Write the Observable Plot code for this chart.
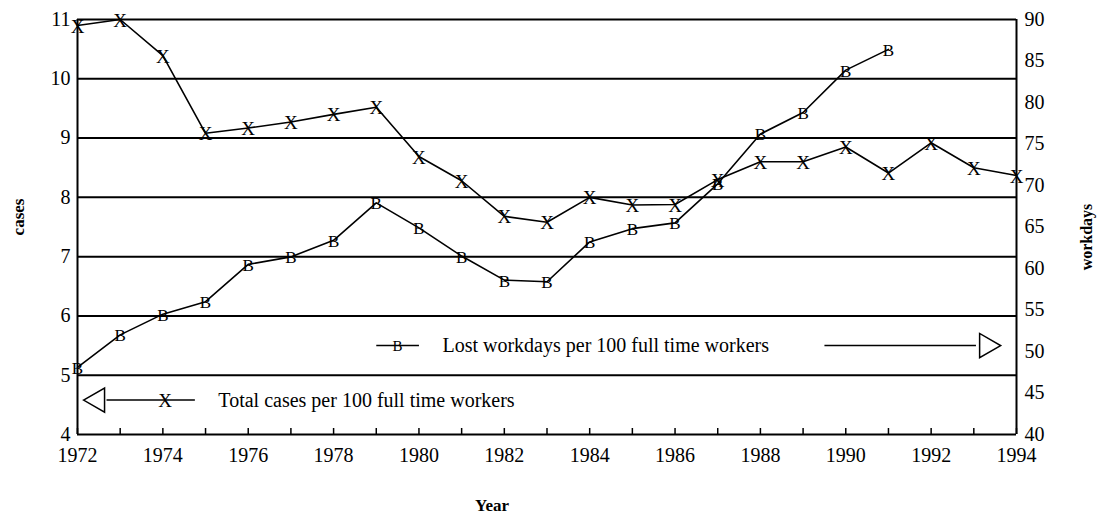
<!DOCTYPE html>
<html><head><meta charset="utf-8">
<script src="https://cdn.jsdelivr.net/npm/d3@7"></script>
<script src="https://cdn.jsdelivr.net/npm/@observablehq/plot@0.6"></script>
<style>
body{margin:0;background:#fff;}
svg{font-family:"Liberation Serif",serif;}
</style></head><body><div id="chart"></div>
<script>
const years = [1972,1973,1974,1975,1976,1977,1978,1979,1980,1981,1982,1983,1984,1985,1986,1987,1988,1989,1990,1991,1992,1993,1994];
const totalCases = [10.9,11.0,10.39,9.08,9.17,9.27,9.4,9.52,8.69,8.28,7.68,7.58,8.0,7.87,7.88,8.3,8.6,8.6,8.85,8.41,8.92,8.5,8.37];
const lostYears = [1972,1973,1974,1975,1976,1977,1978,1979,1980,1981,1982,1983,1984,1985,1986,1987,1988,1989,1990,1991];
const lostWorkdays = [48.1,52.0,54.5,56.0,60.5,61.4,63.4,67.9,64.9,61.5,58.6,58.4,63.2,64.8,65.5,70.2,76.2,78.8,83.9,86.4];
const casesTicks = [4,5,6,7,8,9,10,11];
const gridCases = [5,6,7,8,9,10,11];
const workdayTicks = [40,45,50,55,60,65,70,75,80,85,90];
const yearLabels = [1972,1974,1976,1978,1980,1982,1984,1986,1988,1990,1992,1994];
const legendLabels = ["Lost workdays per 100 full time workers","Total cases per 100 full time workers"];
const axisTitles = {x:"Year", yLeft:"cases", yRight:"workdays"};

// workdays (right axis) -> cases (left axis) units
const casesDomain = [4,11], workDomain = [40,90];
const toCases = w => casesDomain[0] + (w - workDomain[0]) * (casesDomain[1]-casesDomain[0])/(workDomain[1]-workDomain[0]);
const toWork = c => workDomain[0] + (c - casesDomain[0]) * (workDomain[1]-workDomain[0])/(casesDomain[1]-casesDomain[0]);

const cases = years.map((y,i)=>({year:y, v:totalCases[i]}));
const lost = lostYears.map((y,i)=>({year:y, v:toCases(lostWorkdays[i])}));

const FS = 20;
const chart = Plot.plot({
  width:1097, height:515,
  marginLeft:77, marginRight:81, marginTop:19, marginBottom:81,
  style:{fontFamily:"'Liberation Serif', serif", fontSize:FS+"px", color:"#000", background:"#fff"},
  x:{domain:[1972,1994]},
  y:{domain:casesDomain},
  marks:[
    Plot.ruleY(gridCases, {stroke:"#000", strokeWidth:2}),
    Plot.ruleX([1972,1994], {stroke:"#000", strokeWidth:2}),
    Plot.ruleY([4], {stroke:"#000", strokeWidth:2}),
    Plot.axisX(years, {anchor:"bottom", tickSize:-6, strokeWidth:1.5, text:null, label:null}),
    Plot.axisX(yearLabels, {anchor:"bottom", tickSize:0, tickPadding:13, tickFormat:"d", fontSize:FS, label:null}),
    Plot.axisY(casesTicks, {anchor:"left", tickSize:0, tickPadding:7, tickFormat:"d", fontSize:FS, label:null}),
    Plot.axisY(workdayTicks.map(toCases), {anchor:"right", tickSize:0, tickPadding:8, fontSize:FS, tickFormat:d=>String(Math.round(toWork(d))), label:null}),
    Plot.text([axisTitles.yLeft], {frameAnchor:"left", textAnchor:"middle", lineAnchor:"middle", dx:-59, dy:-10, rotate:-90, fontWeight:"bold", fontSize:17}),
    Plot.text([axisTitles.yRight], {frameAnchor:"right", textAnchor:"middle", lineAnchor:"middle", dx:70, dy:10, rotate:-90, fontWeight:"bold", fontSize:16}),
    Plot.text([axisTitles.x], {frameAnchor:"bottom", textAnchor:"middle", lineAnchor:"middle", dx:-55, dy:71, fontWeight:"bold", fontSize:17}),
    // data lines
    Plot.line(cases, {x:"year", y:"v", stroke:"#000", strokeWidth:1.6}),
    Plot.line(lost, {x:"year", y:"v", stroke:"#000", strokeWidth:1.6}),
    Plot.text(cases, {x:"year", y:"v", text:()=>"X", fontSize:19, fill:"#000", dy:1}),
    Plot.text(lost, {x:"year", y:"v", text:()=>"B", fontSize:17, fill:"#000", dy:1}),
    // legend: lost workdays
    Plot.link([0], {x1:1979.0, x2:1980.0, y1:5.5, y2:5.5, stroke:"#000", strokeWidth:1.5}),
    Plot.text([0], {x:1979.5, y:5.5, text:()=>"B", fontSize:15, dy:1}),
    Plot.text([legendLabels[0]], {x:1980.55, y:5.5, textAnchor:"start", fontSize:FS}),
    Plot.link([0], {x1:1989.5, x2:1993.05, y1:5.5, y2:5.5, stroke:"#000", strokeWidth:1.5}),
    Plot.dot([0], {x:1993.3, y:5.5, symbol:"triangle", rotate:90, r:9, stroke:"#000", fill:"#fff", strokeWidth:1.5}),
    // legend: total cases
    Plot.dot([0], {x:1972.47, y:4.58, symbol:"triangle", rotate:-90, r:9, stroke:"#000", fill:"#fff", strokeWidth:1.5}),
    Plot.link([0], {x1:1972.68, x2:1974.75, y1:4.58, y2:4.58, stroke:"#000", strokeWidth:1.5}),
    Plot.text([0], {x:1974.05, y:4.58, text:()=>"X", fontSize:19, dy:1}),
    Plot.text([legendLabels[1]], {x:1975.3, y:4.58, textAnchor:"start", fontSize:FS})
  ]
});
document.getElementById("chart").appendChild(chart);
</script>
</body></html>
